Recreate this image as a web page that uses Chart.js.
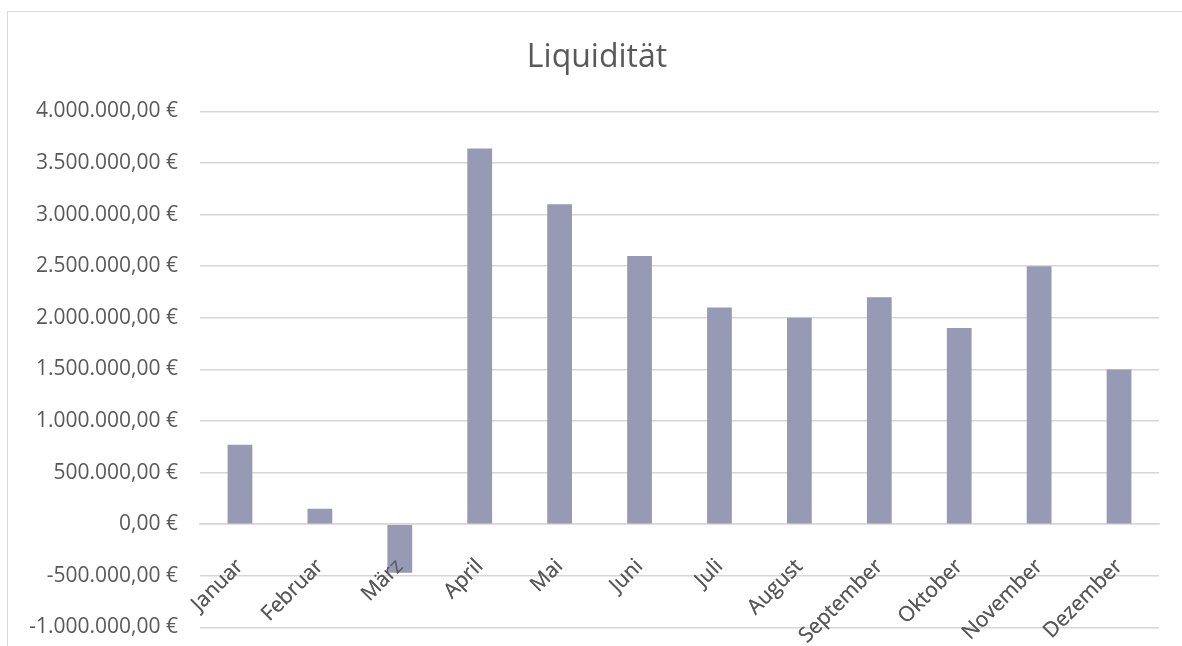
<!DOCTYPE html>
<html>
<head>
<meta charset="utf-8">
<script src="https://cdn.jsdelivr.net/npm/chart.js@4"></script>
<style>
  html, body { margin: 0; padding: 0; background: #fff; overflow: hidden; }
  #wrap { position: relative; width: 1182px; height: 646px; overflow: hidden; }
  #frame { position: absolute; left: 7px; top: 11px; width: 1300px; height: 700px; border: 1.5px solid #d9d9d9; box-sizing: border-box; }
  canvas { position: absolute; left: 0; top: 0; }
</style>
</head>
<body>
<div id="wrap">
  <div id="frame"></div>
  <canvas id="myChart" width="1194" height="662"></canvas>
</div>
<script>
const months = [
  "Januar", "Februar", "März", "April", "Mai", "Juni",
  "Juli", "August", "September", "Oktober", "November", "Dezember",
];
const liquidity = [
  770000, 150000, -470000, 3640000, 3100000, 2600000,
  2100000, 2000000, 2200000, 1900000, 2500000, 1500000,
];
const yMin = -1000000;
const yMax = 4000000;
const yStep = 500000;

const textColor = "#595959";
const gridColor = "#d9d5d2";

function euro(value) {
  const neg = value < 0;
  let s = Math.abs(Math.round(value)).toString();
  s = s.replace(/\B(?=(\d{3})+(?!\d))/g, ".");
  return (neg ? "-" : "") + s + ",00 €";
}

// category labels sit on top of the bars, like in Excel
const labelsOnTop = {
  id: "labelsOnTop",
  afterDatasetsDraw(chart) {
    chart.scales.x.drawLabels(chart.chartArea);
  },
};

function createChart() {
  const data = {
    labels: months,
    datasets: [
      {
        label: "Liquidität",
        backgroundColor: "#969ab5",
        data: liquidity,
        barPercentage: 0.31,
        categoryPercentage: 1.0,
      },
    ],
  };

  const config = {
    type: "bar",
    data,
    plugins: [labelsOnTop],
    options: {
      responsive: false,
      animation: false,
      layout: { padding: { left: 0, right: 0, top: 0, bottom: 20 } },
      plugins: {
        legend: { display: false },
        tooltip: { enabled: false },
        title: {
          display: true,
          text: "Liquidität",
          color: textColor,
          font: { family: "Open Sans", size: 32, weight: "normal" },
          padding: { top: 39, bottom: 34 },
        },
      },
      scales: {
        x: {
          position: { y: 0 },
          grid: { display: false, drawTicks: false },
          border: { display: true, color: gridColor, width: 1.5 },
          ticks: {
            color: textColor,
            font: { family: "Open Sans", size: 21 },
            minRotation: 45,
            maxRotation: 45,
            padding: 30,
          },
          afterFit: (scale) => {
            scale.height = 0;
          },
        },
        y: {
          min: yMin,
          max: yMax,
          grid: { color: gridColor, lineWidth: 1.5, drawTicks: false },
          border: { display: false },
          ticks: {
            stepSize: yStep,
            color: textColor,
            font: { family: "Open Sans", size: 21 },
            padding: 22,
            callback: (v) => euro(v),
          },
          afterFit: (scale) => {
            scale.width = 200;
          },
        },
        // empty right axis, only keeps the right margin inside the layout
        y2: {
          position: "right",
          grid: { display: false, drawTicks: false },
          border: { display: false },
          ticks: { display: false },
          afterFit: (scale) => {
            scale.width = 35;
          },
        },
      },
    },
  };
  new Chart(document.getElementById("myChart"), config);
}

document.addEventListener("DOMContentLoaded", () => {
  createChart();
});
</script>
</body>
</html>
